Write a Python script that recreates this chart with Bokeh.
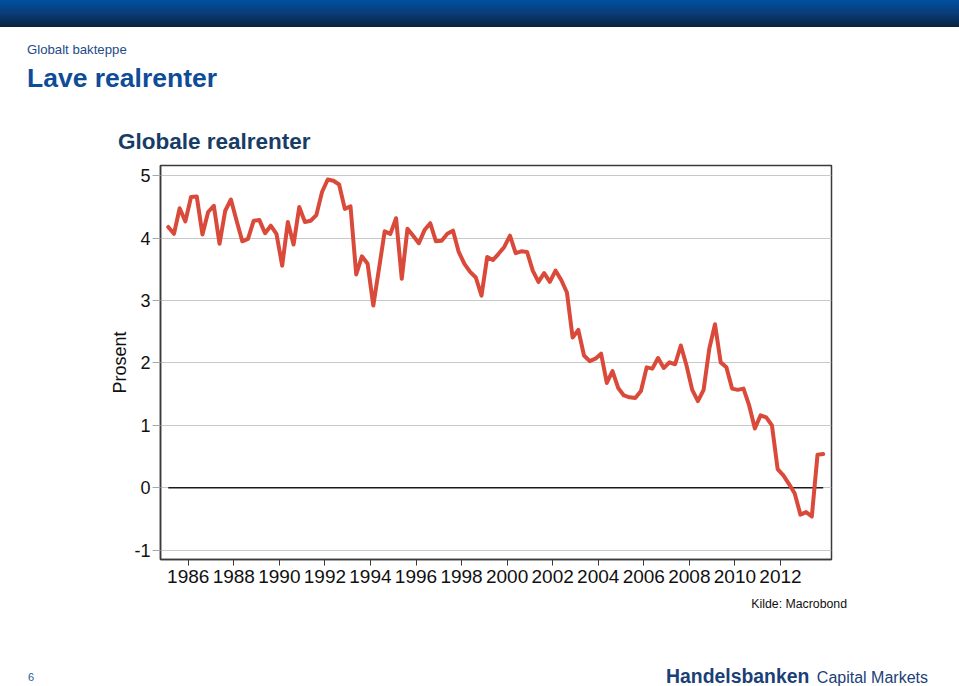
from bokeh.plotting import figure
from bokeh.layouts import column
from bokeh.models import FixedTicker, Range1d, Div
from bokeh.embed import file_html
from bokeh.resources import INLINE

# ---------------- data ----------------
start_year = 1985  # quarterly series, 1985Q1 .. 2013Q4
real_rates = [
    4.18, 4.07, 4.48, 4.27, 4.66, 4.67, 4.06, 4.42, 4.52, 3.91, 4.44, 4.62, 4.28,
    3.95, 3.99, 4.28, 4.29, 4.08, 4.20, 4.07, 3.56, 4.26, 3.90, 4.50, 4.26, 4.28,
    4.37, 4.74, 4.94, 4.92, 4.86, 4.47, 4.51, 3.42, 3.71, 3.59, 2.92, 3.51, 4.11,
    4.07, 4.32, 3.35, 4.15, 4.04, 3.92, 4.13, 4.24, 3.95, 3.96,
    4.07, 4.12, 3.78, 3.59, 3.46, 3.37, 3.08, 3.70, 3.65, 3.75, 3.86, 4.04, 3.76,
    3.79, 3.78, 3.48, 3.30, 3.44, 3.30, 3.48, 3.33, 3.13, 2.41, 2.53, 2.12, 2.03,
    2.07, 2.15, 1.68, 1.87, 1.60, 1.48, 1.45, 1.44, 1.55, 1.93, 1.91, 2.08, 1.92,
    2.01, 1.98, 2.28, 1.96, 1.57, 1.39, 1.57, 2.23, 2.62, 2.01,
    1.93, 1.59, 1.57, 1.59, 1.32, 0.95, 1.16, 1.13, 1.00, 0.30, 0.20, 0.06, -0.09,
    -0.43, -0.39, -0.46, 0.53, 0.54,
]
quarters = [start_year + (i + 0.5) / 4 for i in range(len(real_rates))]
x_ticks = list(range(1986, 2013, 2))
y_ticks = [-1, 0, 1, 2, 3, 4, 5]

FONT = "Liberation Sans"


def txt(text, left, baseline, size, color, weight="normal", right=None):
    top = baseline - 0.8465 * size
    pos = f"right:{right}px;" if right is not None else f"left:{left}px;"
    return (f'<div style="position:absolute;{pos}top:{top:.1f}px;'
            f'font-family:\'{FONT}\',Arial,sans-serif;font-size:{size}px;'
            f'line-height:{size}px;font-weight:{weight};color:{color};'
            f'white-space:nowrap;margin:0;padding:0;">{text}</div>')


# ---------------- header (page y 0..160) ----------------
HEAD_H = 160
header_html = (
    f'<div style="position:relative;width:959px;height:{HEAD_H}px;margin:0;padding:0;overflow:visible;">'
    '<div style="position:absolute;left:0;top:0;width:959px;height:27px;'
    'background:linear-gradient(to bottom,#0050a0 0%,#0a3c76 50%,#07223e 100%);"></div>'
    + txt("Globalt bakteppe", 27, 54.5, 13.2, "#1d4c86")
    + txt("Lave realrenter", 27, 87, 26.5, "#0f4c97", "bold")
    + txt("Globale realrenter", 118, 150, 22.5, "#173d66", "bold")
    + '</div>'
)
header = Div(text=header_html, width=959, height=HEAD_H, margin=(0, 0, 0, 0))

# ---------------- main chart (page y 160..595) ----------------
p = figure(width=959, height=435, toolbar_location=None, output_backend="svg",
           x_range=Range1d(1984.784, 2014.239), y_range=Range1d(-1.149, 5.165),
           min_border_left=160, min_border_right=128, min_border_top=5,
           min_border_bottom=36)
p.background_fill_color = "white"
p.border_fill_color = "white"
p.outline_line_color = "#3a3a3a"
p.outline_line_width = 1.5

p.xgrid.visible = False
p.ygrid.grid_line_color = "#c8c8c8"
p.ygrid.grid_line_width = 1

p.xaxis.ticker = FixedTicker(ticks=x_ticks)
p.yaxis.ticker = FixedTicker(ticks=y_ticks)
p.yaxis.major_label_overrides = {t: str(t) for t in y_ticks}
p.xaxis.minor_tick_line_color = None
p.yaxis.minor_tick_line_color = None
p.axis.axis_line_color = "#3a3a3a"
p.axis.axis_line_width = 1.5

p.xaxis.major_tick_line_color = "#3a3a3a"
p.xaxis.major_tick_out = 6
p.xaxis.major_tick_in = 0
p.xaxis.major_label_standoff = 4
p.xaxis.major_label_text_font = FONT
p.xaxis.major_label_text_font_size = "19px"
p.xaxis.major_label_text_color = "#111111"

p.yaxis.major_tick_line_color = "#a8a8a8"
p.yaxis.major_tick_out = 8
p.yaxis.major_tick_in = 0
p.yaxis.major_label_standoff = 2
p.yaxis.major_label_text_font = FONT
p.yaxis.major_label_text_font_size = "18px"
p.yaxis.major_label_text_color = "#111111"
p.yaxis.axis_label = "Prosent"
p.yaxis.axis_label_text_font = FONT
p.yaxis.axis_label_text_font_size = "18px"
p.yaxis.axis_label_text_font_style = "normal"
p.yaxis.axis_label_text_color = "#111111"
p.yaxis.axis_label_standoff = 1

# zero line across the span of the series
p.line(x=[quarters[0], quarters[-1]], y=[0, 0], line_color="#1a1a1a", line_width=1.5)
p.line(x=quarters, y=real_rates, line_color="#da4a3a", line_width=4,
       line_join="round", line_cap="round")

# ---------------- footer (page y 595..686) ----------------
FOOT_TOP = 595
FOOT_H = 686 - FOOT_TOP
footer_html = (
    f'<div style="position:relative;width:959px;height:{FOOT_H}px;margin:0;padding:0;overflow:visible;">'
    + txt("Kilde: Macrobond", 0, 608 - FOOT_TOP, 12.3, "#111111", right=959 - 847)
    + txt("6", 28, 681 - FOOT_TOP, 11, "#2a5aa0")
    + txt("Handelsbanken", 666, 683 - FOOT_TOP, 19.4, "#1b3f77", "bold")
    + txt("Capital Markets", 0, 683 - FOOT_TOP, 16, "#1b3f77", right=959 - 928)
    + '</div>'
)
footer = Div(text=footer_html, width=959, height=FOOT_H, margin=(0, 0, 0, 0))

layout = column(header, p, footer, spacing=0)
open("out.html", "w").write(file_html(layout, INLINE))
